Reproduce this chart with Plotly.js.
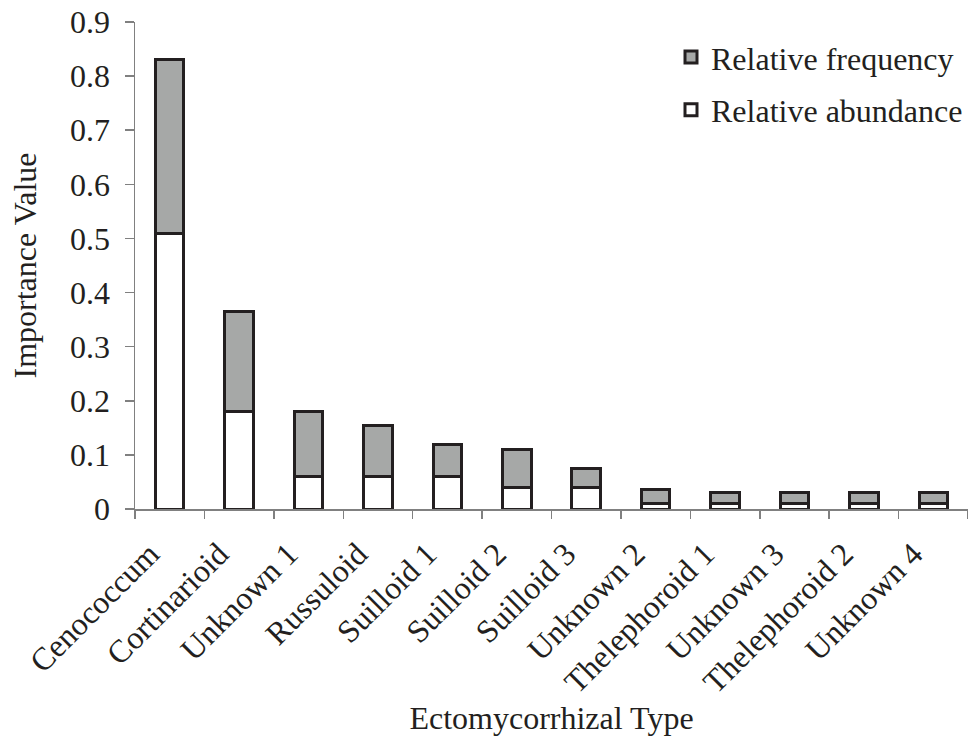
<!DOCTYPE html>
<html>
<head>
<meta charset="utf-8">
<script src="https://cdn.plot.ly/plotly-3.0.1.min.js"></script>
<style>html,body{margin:0;padding:0;background:#fff;}#chart{width:968px;height:736px;}</style>
</head>
<body>
<div id="chart"></div>
<script>
const categories = ["Cenococcum","Cortinarioid","Unknown 1","Russuloid","Suilloid 1","Suilloid 2","Suilloid 3","Unknown 2","Thelephoroid 1","Unknown 3","Thelephoroid 2","Unknown 4"];
const relativeAbundance = [0.51,0.18,0.06,0.06,0.06,0.04,0.04,0.01,0.01,0.01,0.01,0.01];
const relativeFrequency = [0.32,0.185,0.12,0.095,0.06,0.07,0.035,0.026,0.02,0.02,0.02,0.02];
const yTicks = [0,0.1,0.2,0.3,0.4,0.5,0.6,0.7,0.8,0.9];
const yTickText = ["0","0.1","0.2","0.3","0.4","0.5","0.6","0.7","0.8","0.9"];

const font = "Liberation Serif, Times New Roman, serif";
const edge = {color:"#231f20", width:3};

const traces = [
  {type:"bar", name:"Relative abundance", x:categories, y:relativeAbundance,
   marker:{color:"#ffffff", line:edge}, legendgroup:"a", legendrank:2},
  {type:"bar", name:"Relative frequency", x:categories, y:relativeFrequency,
   marker:{color:"#a6a8a7", line:edge}, legendgroup:"f", legendrank:1}
];

const layout = {
  width:968, height:736,
  margin:{l:135, r:0, t:22, b:227, autoexpand:false},
  paper_bgcolor:"#fff", plot_bgcolor:"#fff",
  barmode:"stack", bargap:0.59,
  font:{family:font, size:32, color:"#231f20"},
  showlegend:true,
  legend:{x:1, xanchor:"right", y:0.984, yanchor:"top", traceorder:"grouped",
          tracegroupgap:8, font:{family:font, size:32, color:"#231f20"},
          bgcolor:"rgba(0,0,0,0)", itemwidth:30},
  xaxis:{type:"category", showline:true, linecolor:"#808080", linewidth:1.5,
         ticks:"outside", tickson:"boundaries", ticklen:8, tickcolor:"#808080", tickwidth:1.5,
         tickangle:-45, tickfont:{family:font, size:32, color:"#231f20"},
         ticklabelshift:-20, ticklabelstandoff:12,
         showgrid:false, zeroline:false, automargin:false,
         title:{text:"Ectomycorrhizal Type", font:{family:font, size:32, color:"#231f20"}, standoff:10}},
  yaxis:{range:[0,0.9], tickvals:yTicks, ticktext:yTickText, showline:true, linecolor:"#808080", linewidth:1.5,
         ticks:"outside", ticklen:9, tickcolor:"#808080", tickwidth:1.5, ticklabelstandoff:8,
         tickfont:{family:font, size:32, color:"#231f20"}, showgrid:false, zeroline:false, automargin:false,
         title:{text:"Importance Value", font:{family:font, size:32, color:"#231f20"}, standoff:24}}
};

Plotly.newPlot("chart", traces, layout, {displayModeBar:false, staticPlot:true});
</script>
</body>
</html>
